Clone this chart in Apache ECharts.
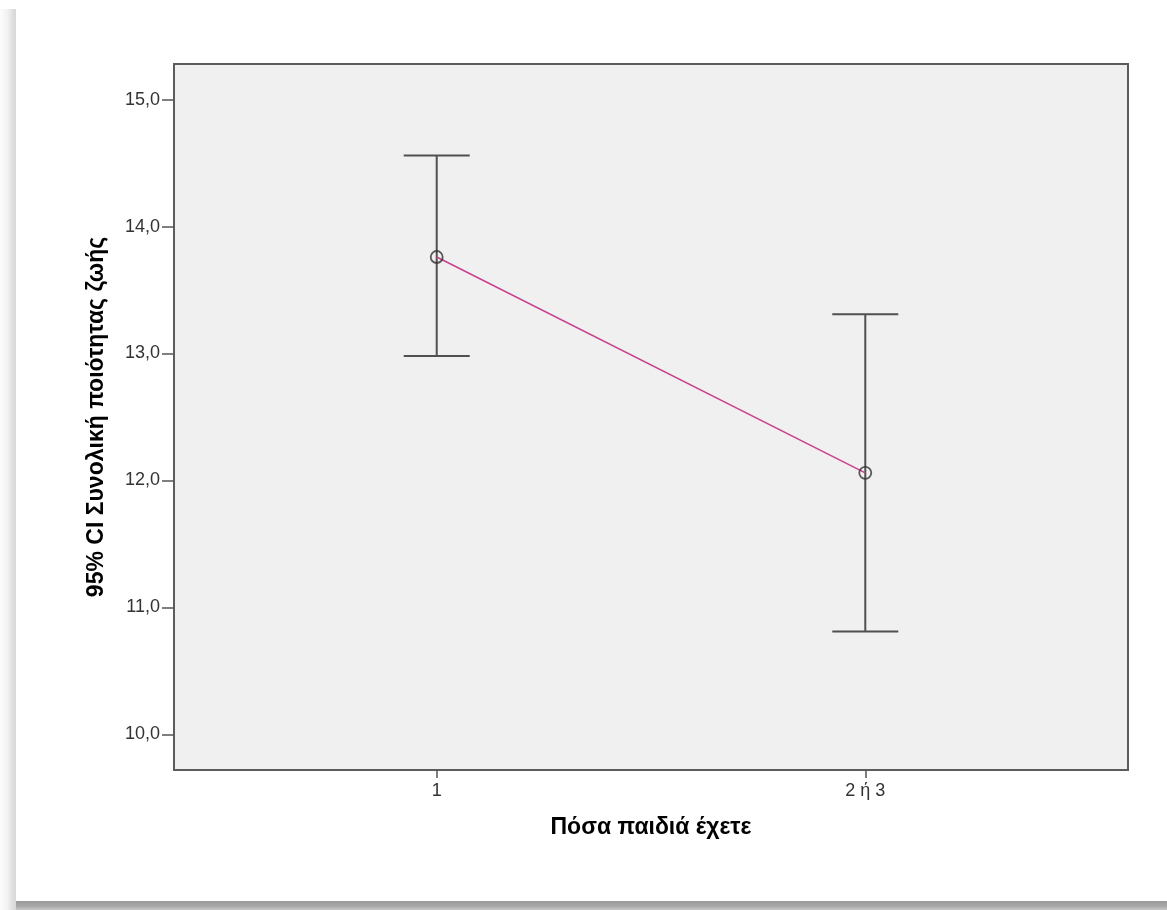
<!DOCTYPE html>
<html lang="el">
<head>
	<meta charset="UTF-8">
	<title>95% CI Συνολική ποιότητας ζωής</title>
	<script src="https://cdn.jsdelivr.net/npm/echarts@6/dist/echarts.min.js"></script>
	<style>
		html, body { margin: 0; padding: 0; background: #fff; }
		#wrap { position: relative; width: 1167px; height: 910px; overflow: hidden; }
		#shadowLeft { position: absolute; left: 0; top: 9px; width: 16px; height: 901px;
			background: linear-gradient(to right, #fdfdfd, #f3f3f3 45%, #dedede 80%, #d8d8d8); }
		#shadowBottom { position: absolute; left: 16px; top: 901px; width: 1151px; height: 9px;
			background: linear-gradient(to bottom, #9a9a9a, #a8a8a8 60%, #c8c8c8); }
		#main { position: absolute; left: 0; top: 0; width: 1167px; height: 900px; }
	</style>
</head>
<body>
	<div id="wrap">
		<div id="shadowLeft"></div>
		<div id="shadowBottom"></div>
		<div id="main"></div>
	</div>
	<script type="text/javascript">
	// data
	var categories = ['1', '2 ή 3'];
	var xPositions = [1, 2];
	var means = [13.76, 12.06];
	var lowerCI = [12.98, 10.81];
	var upperCI = [14.56, 13.31];
	var yTicks = [10, 11, 12, 13, 14, 15];

	var myChart = echarts.init(document.getElementById('main'));

	var meanPoints = xPositions.map(function (x, i) { return [x, means[i]]; });
	var barPoints = xPositions.map(function (x, i) { return [x, lowerCI[i], upperCI[i]]; });

	var option = {
		animation: false,
		grid: {
			left: 174, top: 64, width: 954, height: 706,
			show: true, backgroundColor: '#f0f0f0',
			borderColor: '#5c5c5c', borderWidth: 2
		},
		xAxis: {
			type: 'value',
			min: 0.387, max: 2.613,
			name: 'Πόσα παιδιά έχετε',
			nameLocation: 'middle', nameGap: 46,
			nameTextStyle: { fontFamily: 'Liberation Sans', fontWeight: 'bold', fontSize: 23, color: '#000' },
			splitLine: { show: false },
			axisLine: { show: false },
			axisTick: { show: true, length: 8, customValues: xPositions, lineStyle: { color: '#555', width: 1.5 } },
			axisLabel: {
				customValues: xPositions, margin: 12,
				fontFamily: 'Liberation Sans', fontSize: 18, color: '#333',
				formatter: function (v) { return categories[xPositions.indexOf(v)]; }
			}
		},
		yAxis: {
			type: 'value',
			min: 9.72, max: 15.28,
			name: '95% CI Συνολική ποιότητας ζωής',
			nameLocation: 'middle', nameGap: 66,
			nameTextStyle: { fontFamily: 'Liberation Sans', fontWeight: 'bold', fontSize: 23, color: '#000' },
			splitLine: { show: false },
			axisLine: { show: false },
			axisTick: { show: true, length: 12, customValues: yTicks, lineStyle: { color: '#555', width: 1.5 } },
			axisLabel: {
				customValues: yTicks, margin: 14,
				fontFamily: 'Liberation Sans', fontSize: 18, color: '#333',
				formatter: function (v) { return v.toFixed(1).replace('.', ','); }
			}
		},
		series: [
			{
				// error bars
				type: 'custom',
				data: barPoints,
				z: 2,
				renderItem: function (params, api) {
					var lo = api.coord([api.value(0), api.value(1)]);
					var hi = api.coord([api.value(0), api.value(2)]);
					var w = 33;
					var style = { stroke: '#505050', lineWidth: 2 };
					return {
						type: 'group',
						children: [
							{ type: 'line', shape: { x1: lo[0], y1: lo[1], x2: hi[0], y2: hi[1] }, style: style },
							{ type: 'line', shape: { x1: hi[0] - w, y1: hi[1], x2: hi[0] + w, y2: hi[1] }, style: style },
							{ type: 'line', shape: { x1: lo[0] - w, y1: lo[1], x2: lo[0] + w, y2: lo[1] }, style: style }
						]
					};
				}
			},
			{
				type: 'line',
				data: meanPoints,
				z: 3,
				showSymbol: false,
				lineStyle: { color: '#c8418f', width: 1.5 }
			},
			{
				type: 'scatter',
				data: meanPoints,
				z: 4,
				symbol: 'circle',
				symbolSize: 12,
				itemStyle: { color: 'rgba(0,0,0,0)', borderColor: '#333', borderWidth: 1.8 }
			}
		]
	};
	myChart.setOption(option);
	</script>
</body>
</html>
